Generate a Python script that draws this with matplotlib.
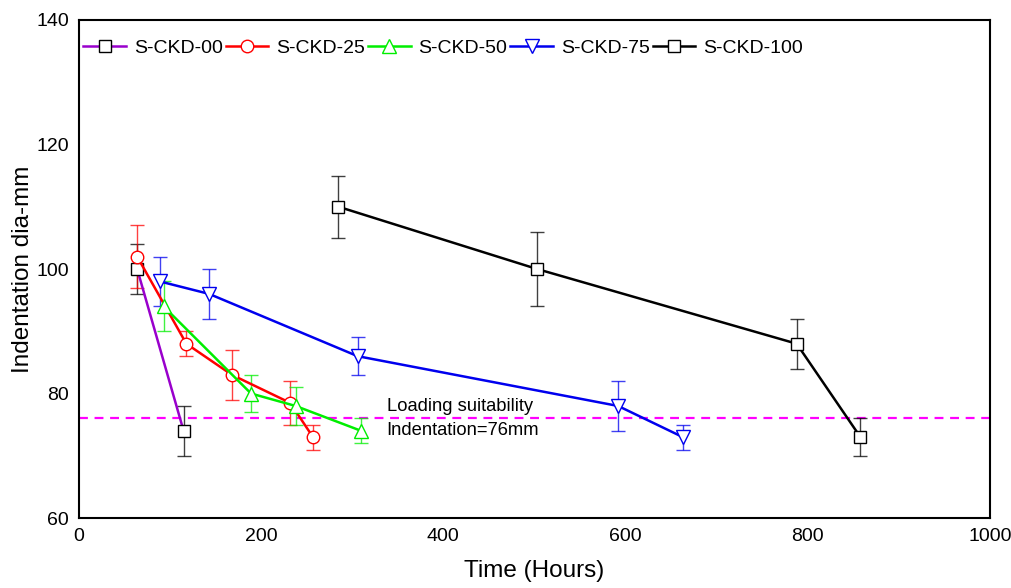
import matplotlib.pyplot as plt

plt.rcParams['font.family'] = ['Liberation Sans', 'DejaVu Sans']

# S-CKD-00
t00 = [64, 115]
d00 = [100, 74]
e00 = [4, 4]

# S-CKD-25
t25 = [64, 118, 168, 232, 257]
d25 = [102, 88, 83, 78.5, 73]
e25 = [5, 2, 4, 3.5, 2]

# S-CKD-50
t50 = [93, 189, 238, 310]
d50 = [94, 80, 78, 74]
e50 = [4, 3, 3, 2]

# S-CKD-75
t75 = [89, 143, 306, 592, 663]
d75 = [98, 96, 86, 78, 73]
e75 = [4, 4, 3, 4, 2]

# S-CKD-100
t100 = [285, 503, 788, 858]
d100 = [110, 100, 88, 73]
e100 = [5, 6, 4, 3]

limit = 76

fig = plt.figure(figsize=(10.11, 5.88), dpi=100)
ax = fig.add_axes([0.078, 0.119, 0.901, 0.847])

ax.axhline(limit, color='#ff00ff', ls=(0, (4, 3)), lw=1.6, zorder=1)

series = [
    (t00, d00, e00, 'S-CKD-00', '#9900cc', 's', 'black', 8),
    (t25, d25, e25, 'S-CKD-25', 'red', 'o', 'red', 9),
    (t50, d50, e50, 'S-CKD-50', '#00ee00', '^', '#00ee00', 10),
    (t75, d75, e75, 'S-CKD-75', '#0000ee', 'v', '#0000ee', 10),
    (t100, d100, e100, 'S-CKD-100', 'black', 's', 'black', 8),
]
for t, d, e, lab, lc, m, mc, ms in series:
    ax.errorbar(t, d, yerr=e, fmt='none', ecolor=mc, elinewidth=1, capsize=5,
                capthick=1, alpha=0.75, zorder=2)
    ax.plot(t, d, color=lc, lw=1.8, marker=m, ms=ms, mfc='white', mec=mc,
            mew=1, label=lab, zorder=3)

ax.text(338, 76.0, 'Loading suitability\nIndentation=76mm', fontsize=13.2,
        va='center', ha='left', linespacing=1.5)

ax.set_xlim(0, 1000)
ax.set_ylim(60, 140)
ax.set_xticks([0, 200, 400, 600, 800, 1000])
ax.set_yticks([60, 80, 100, 120, 140])
ax.tick_params(length=0, labelsize=14, pad=7)
for s in ax.spines.values():
    s.set_linewidth(1.5)
ax.set_xlabel('Time (Hours)', fontsize=17.5, labelpad=11)
ax.set_ylabel('Indentation dia-mm', fontsize=17.5, labelpad=2)

ax.legend(loc='upper left', ncol=5, frameon=False, fontsize=14,
          handlelength=2.2, handletextpad=0.4, columnspacing=0.15,
          borderaxespad=0.2, bbox_to_anchor=(-0.008, 0.985))

fig.savefig('out.png', dpi=100)
